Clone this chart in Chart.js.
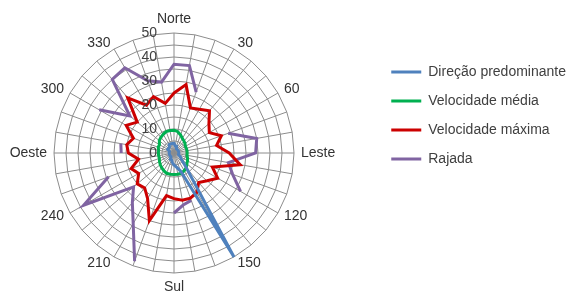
<!DOCTYPE html>
<html>
<head>
<meta charset="utf-8">
<script src="https://cdn.jsdelivr.net/npm/chart.js@4/dist/chart.umd.min.js"></script>
<style>
    html, body { margin: 0; padding: 0; background: #fff; overflow: hidden; }
    /* canvas is a bit wider than the window so the radar sits left of centre */
    #wrap { width: 604px; height: 297px; margin-left: -28px; }
</style>
</head>
<body>
<div id="wrap"><canvas id="windChart"></canvas></div>
<script>
// 36 directions, every 10 degrees, only some are labelled
var directions = ["Norte", "", "", "30", "", "", "60", "", "", "Leste", "", "",
    "120", "", "", "150", "", "", "Sul", "", "", "210", "", "",
    "240", "", "", "Oeste", "", "", "300", "", "", "330", "", ""];
var tickValues = [0, 10, 20, 30, 40, 50];

var direcao = [4, 3, 3, 2, 2, 2, 2, 2, 2, 2, 2, 2, 3, 4, 8, 50, 8, 6,
    5, 4, 3, 3, 2, 2, 2, 2, 2, 2, 2, 2, 3, 3, 3, 4, 4, 4];
var velocidadeMedia = [9.5, 9, 8, 7, 6.5, 6, 5.5, 5.5, 5.5, 5.5, 5.5, 6, 6.5, 7, 8, 8.5, 9, 9,
    9, 9, 9, 8.5, 8, 7.5, 7, 6.5, 6.5, 6.5, 6.5, 7, 7, 8, 8.5, 9, 9.5, 9.5];
var velocidadeMaxima = [25, 29, 20, 21, 23, 19, 17, 21, 18, 23, 28, 17, 21, 18, 16, 19, 20, 20,
    19, 18, 30, 22, 19, 20, 17, 19, 15, 19, 20, 18, 23, 20, 30, 23, 25, 21];
var rajada = [37, 37, 27, null, null, null, null, 24, 35, 34, 23, 26, 32, null, null, null, 21, 22,
    25, null, 48, 34, 27, 22, 43.5, 29, null, 22, 22.5, null, 36, 24, 40, 41, 32, 30];

var labelFont = "'Liberation Sans', Arial, sans-serif";

// value labels left of the vertical axis and direction labels placed
// the way the original spreadsheet does it
var axisTextPlugin = {
    id: "axisText",
    afterDatasetsDraw: function (chart) {
        var scale = chart.scales.r;
        var ctx = chart.ctx;
        ctx.save();
        ctx.font = "14px " + labelFont;
        ctx.fillStyle = "#404040";
        ctx.textAlign = "right";
        ctx.textBaseline = "middle";
        tickValues.forEach(function (v) {
            var d = scale.getDistanceFromCenterForValue(v);
            ctx.fillText(String(v), scale.xCenter - 17, scale.yCenter - d);
        });

        ctx.fillStyle = "#333333";
        directions.forEach(function (name, i) {
            if (name === "") {
                return;
            }
            var deg = i * 10;
            var p = scale.getPointPosition(i, scale.drawingArea + 7);
            if (deg === 0) {
                ctx.textAlign = "center";
                ctx.textBaseline = "bottom";
            } else if (deg === 180) {
                ctx.textAlign = "center";
                ctx.textBaseline = "top";
            } else {
                ctx.textAlign = deg < 180 ? "left" : "right";
                ctx.textBaseline = "middle";
            }
            ctx.fillText(name, p.x, p.y);
        });
        ctx.restore();
    }
};

function makeSet(label, data, color) {
    return {
        label: label,
        data: data,
        borderColor: color,
        backgroundColor: color,
        borderWidth: 3,
        pointRadius: 0,
        pointHoverRadius: 0,
        fill: false,
        tension: 0,
        spanGaps: false
    };
}

var ctx = document.getElementById("windChart").getContext("2d");
var windChart = new Chart(ctx, {
    type: "radar",
    data: {
        labels: directions,
        datasets: [
            makeSet("Direção predominante", direcao, "#4F81BD"),
            makeSet("Velocidade média", velocidadeMedia, "#00B050"),
            makeSet("Velocidade máxima", velocidadeMaxima, "#CC0000"),
            makeSet("Rajada", rajada, "#8064A2")
        ]
    },
    options: {
        responsive: true,
        maintainAspectRatio: false,
        animation: false,
        layout: { padding: { left: 0, top: 33, right: 0, bottom: 24 } },
        scales: {
            r: {
                min: 0,
                max: 50,
                ticks: { stepSize: 5, display: false },
                grid: { color: "#8c8c8c", lineWidth: 1 },
                angleLines: { color: "#8c8c8c", lineWidth: 1 },
                pointLabels: { display: false }
            }
        },
        plugins: {
            tooltip: { enabled: false },
            legend: {
                position: "right",
                align: "start",
                title: { display: true, text: "", font: { size: 10, lineHeight: 1 }, padding: { top: 7, bottom: 0 } },
                labels: {
                    boxWidth: 30,
                    boxHeight: 3,
                    padding: 15,
                    color: "#404040",
                    font: { family: labelFont, size: 14 },
                    generateLabels: function (chart) {
                        var items = Chart.defaults.plugins.legend.labels.generateLabels(chart);
                        items.forEach(function (item) { item.lineWidth = 0; });
                        return items;
                    }
                }
            }
        }
    },
    plugins: [axisTextPlugin]
});
</script>
</body>
</html>
